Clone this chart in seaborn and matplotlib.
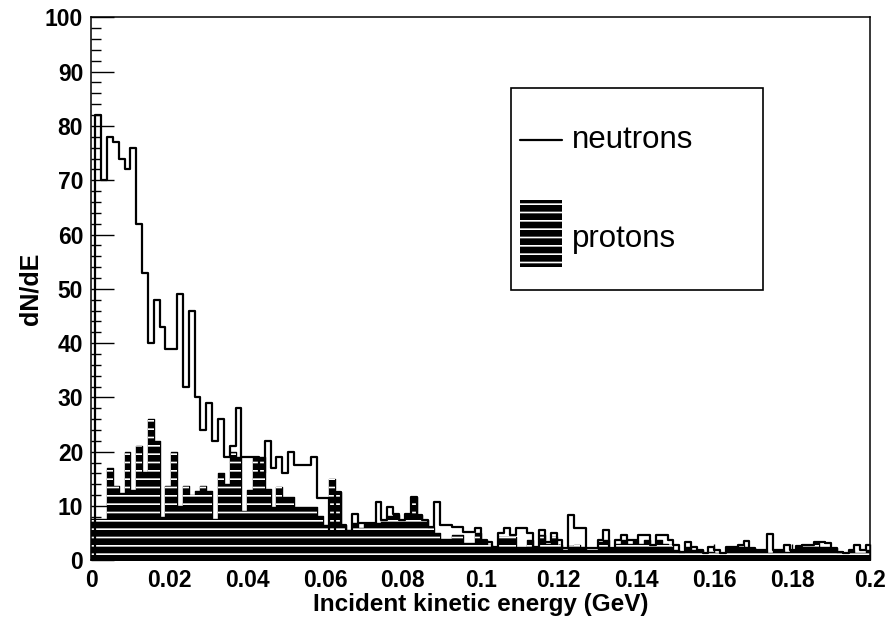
import numpy as np
import pandas as pd
import matplotlib
matplotlib.use("Agg")
import matplotlib.pyplot as plt
from matplotlib.lines import Line2D
from matplotlib.patches import Patch, Rectangle
from matplotlib.legend_handler import HandlerBase, HandlerPatch
from matplotlib.ticker import MultipleLocator
import seaborn as sns

# ---------------- data ----------------
# binning: first partial bin 0-0.001, then bins of 0.0015 GeV
first_edge = 0.001
bin_width = 0.0015
n_bins = 134

neutrons = [
    0, 82, 70, 78, 77, 74, 72, 76, 62, 53,
    40, 48, 43, 39, 39, 49, 32, 46, 30, 24,
    29, 22, 26, 19, 21, 28, 19, 19, 19, 16,
    22, 17, 19, 16, 20, 17.5, 17.5, 17.5, 19, 11.5,
    11.5, 5, 12.5, 6.5, 5, 8.5, 6.8, 6.8, 6.8, 10.8,
    7.5, 9.9, 8.5, 7.5, 8.5, 11.7, 8.3, 7.4, 6.2, 10.8,
    6.5, 6.5, 6.2, 6.2, 5.3, 5.3, 5.9, 3.7, 3.4, 2.5,
    5.0, 5.9, 4.6, 5.9, 5.9, 5.0, 2.5, 5.6, 3.4, 5.0,
    3.7, 2.2, 8.4, 5.9, 5.9, 2.2, 2.2, 3.7, 5.6, 2.2,
    3.7, 4.6, 3.7, 3.7, 4.6, 4.6, 2.8, 4.6, 4.6, 3.7,
    2.8, 1.6, 3.4, 2.5, 1.9, 1.3, 2.5, 1.9, 1.3, 2.5,
    2.5, 2.8, 3.6, 2.2, 1.9, 1.9, 4.8, 1.9, 1.9, 2.8,
    1.9, 2.6, 2.8, 2.8, 3.4, 3.4, 3.1, 2.2, 1.6, 1.3,
    1.9, 2.8, 1.9, 2.8,
]

protons = [
    7.7, 7.7, 7.7, 17, 13.6, 12.4, 20, 13, 21, 16.3,
    26, 22, 8, 13.6, 20, 10, 13.6, 12, 12.7, 13.6,
    12.7, 7.7, 16, 14, 20, 19, 9, 13, 19, 19,
    13.2, 9.9, 13.5, 11.7, 11.7, 9.9, 9.9, 9.9, 9.9, 8.1,
    6.5, 14.9, 12.5, 6.5, 5.5, 6.8, 5.9, 6.8, 6.8, 6.8,
    7.4, 8.1, 8.3, 7.4, 8.3, 11.7, 8.3, 7.4, 6.2, 5.0,
    4.0, 4.0, 4.6, 4.6, 3.1, 3.1, 5.0, 3.7, 2.8, 2.5,
    4.3, 4.3, 4.3, 2.5, 2.5, 3.7, 2.5, 4.6, 3.0, 4.3,
    2.8, 1.9, 2.7, 2.8, 2.5, 1.9, 1.9, 3.4, 3.7, 2.2,
    3.0, 3.7, 3.0, 3.7, 3.0, 3.7, 2.8, 3.7, 3.0, 2.8,
    1.9, 1.6, 2.5, 1.9, 1.9, 1.3, 1.6, 1.3, 1.3, 2.5,
    2.5, 2.8, 2.5, 2.2, 1.9, 1.9, 1.3, 1.9, 1.9, 1.6,
    1.9, 2.6, 2.8, 2.8, 3.4, 2.5, 2.5, 2.2, 1.6, 1.3,
    1.9, 1.3, 1.3, 1.9,
]

x_ticks = [0, 0.02, 0.04, 0.06, 0.08, 0.1, 0.12, 0.14, 0.16, 0.18, 0.2]
x_tick_labels = ["0", "0.02", "0.04", "0.06", "0.08", "0.1", "0.12", "0.14", "0.16", "0.18", "0.2"]
y_ticks = [0, 10, 20, 30, 40, 50, 60, 70, 80, 90, 100]
y_tick_labels = [str(v) for v in y_ticks]
series_labels = ["neutrons", "protons"]
x_title = "Incident kinetic energy (GeV)"
y_title = "dN/dE"

edges = np.concatenate(([0.0], first_edge + bin_width * np.arange(n_bins)))
centers = 0.5 * (edges[:-1] + edges[1:])
bin_list = [float(e) for e in edges]
df = pd.DataFrame({"E": centers, "neutrons": neutrons, "protons": protons})

# ---------------- style ----------------
sns.set_style("white")
plt.rcParams["font.family"] = ["Liberation Sans", "DejaVu Sans"]
plt.rcParams["hatch.linewidth"] = 1.2
for key in ["text.color", "axes.labelcolor", "xtick.color", "ytick.color",
            "axes.edgecolor"]:
    plt.rcParams[key] = "black"
plt.rcParams["xtick.bottom"] = True
plt.rcParams["ytick.left"] = True

fig = plt.figure(figsize=(8.96, 6.19), dpi=100)
ax = fig.add_axes([0.1021, 0.0948, 0.8689, 0.8772])
ax.set_axisbelow(True)

# neutrons: outline histogram
sns.histplot(data=df, x="E", weights="neutrons", bins=bin_list, element="step",
             fill=False, color="black", linewidth=1.6, ax=ax)
# protons: black fill
sns.histplot(data=df, x="E", weights="protons", bins=bin_list, element="step",
             fill=True, color="black", facecolor="black", edgecolor="black",
             linewidth=1.0, alpha=1, ax=ax)
# protons: white horizontal hatch
sns.histplot(data=df, x="E", weights="protons", bins=bin_list, element="step",
             fill=True, color="white", facecolor="none", edgecolor="white",
             hatch="--", linewidth=0, alpha=1, ax=ax)

ax.set_xlim(0, 0.2)
ax.set_ylim(0, 100)
ax.set_xticks(x_ticks)
ax.set_xticklabels(x_tick_labels)
ax.set_yticks(y_ticks)
ax.set_yticklabels(y_tick_labels)
ax.xaxis.set_minor_locator(MultipleLocator(0.004))
ax.yaxis.set_minor_locator(MultipleLocator(2))

ax.tick_params(axis="y", which="major", direction="in", length=16.5, width=1.0,
               labelsize=16.5, pad=6, left=True)
ax.tick_params(axis="y", which="minor", direction="in", length=7.2, width=1.0,
               left=True)
ax.tick_params(axis="x", which="major", direction="in", length=11.7, width=1.0,
               labelsize=16.5, pad=6, bottom=True)
ax.tick_params(axis="x", which="minor", direction="in", length=5.8, width=1.0,
               bottom=True)
ax.tick_params(top=False, right=False)
for lab in ax.get_xticklabels() + ax.get_yticklabels():
    lab.set_fontweight("bold")

for sp in ax.spines.values():
    sp.set_color("black")
    sp.set_linewidth(1.1)
    sp.set_zorder(5)

ax.set_xlabel(x_title, fontsize=17.5, fontweight="bold", labelpad=1)
ax.set_ylabel(y_title, fontsize=18, fontweight="bold", labelpad=2)


# ---------------- legend ----------------
class CenteredLineHandler(HandlerBase):
    def create_artists(self, legend, orig_handle, xdescent, ydescent,
                       width, height, fontsize, trans):
        y = 0.26 * fontsize
        line = Line2D([-xdescent, width - xdescent], [y, y],
                      color=orig_handle.get_color(),
                      lw=orig_handle.get_linewidth(), transform=trans)
        return [line]


def hatched_box(legend, orig_handle, xdescent, ydescent, width, height, fontsize):
    h = 2.14 * fontsize
    yc = 0.42 * fontsize
    return Rectangle((-xdescent, yc - h / 2), width, h)


line_handle = Line2D([], [], color="black", lw=1.6)
patch_handle = Patch(facecolor="black", edgecolor="white", hatch="--", lw=0)

leg = ax.legend([line_handle, patch_handle], series_labels, loc="upper left",
                bbox_to_anchor=(0.539, 0.502, 0.324, 0.368), mode="expand",
                borderaxespad=0, fontsize=22.5, frameon=True, fancybox=False,
                handlelength=1.34, handleheight=3.85, handletextpad=0.32,
                labelspacing=0.4, borderpad=0.29,
                handler_map={Line2D: CenteredLineHandler(),
                             Patch: HandlerPatch(patch_func=hatched_box)})
leg.get_frame().set_edgecolor("black")
leg.get_frame().set_linewidth(1.2)
leg.get_frame().set_alpha(1)

fig.savefig("out.png", dpi=100, facecolor="white")
